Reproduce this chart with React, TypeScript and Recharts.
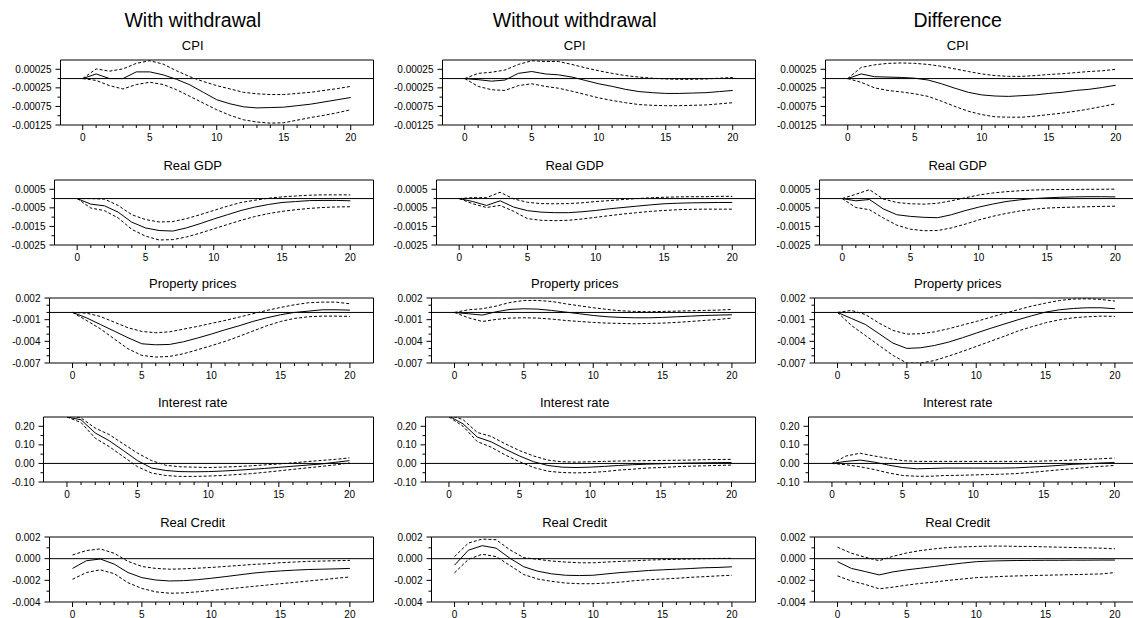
import { LineChart, Line, XAxis, YAxis, ReferenceLine, ReferenceArea } from 'recharts'

const horizon = [0, 1, 2, 3, 4, 5, 6, 7, 8, 9, 10, 11, 12, 13, 14, 15, 16, 17, 18, 19, 20]
const xLabelTicks = [0, 5, 10, 15, 20]

const columns = ['With withdrawal', 'Without withdrawal', 'Difference']
const variables = ['CPI', 'Real GDP', 'Property prices', 'Interest rate', 'Real Credit']

const yDomains = [[-0.00125, 0.0005], [-0.0025, 0.001], [-0.007, 0.002], [-0.1, 0.25], [-0.004, 0.002]]
const yMajor = [
  [0.00025, -0.00025, -0.00075, -0.00125],
  [0.0005, -0.0005, -0.0015, -0.0025],
  [0.002, -0.001, -0.004, -0.007],
  [0.2, 0.1, 0, -0.1],
  [0.002, 0, -0.002, -0.004],
]
const yMinor = [
  [0, -0.0005, -0.001],
  [0, -0.001, -0.002],
  [0.001, 0, -0.002, -0.003, -0.005, -0.006],
  [0.15, 0.05, -0.05],
  [0.001, -0.001, -0.003],
]
const yDigits = [5, 4, 3, 2, 3]

// With withdrawal
const wCpiMid = [0, 0.000125, 0, 0, 0.00018, 0.00018, 0.0001, -0.00002, -0.00017, -0.00037, -0.00057, -0.00068, -0.00076, -0.00079, -0.00078, -0.00077, -0.00073, -0.00069, -0.00063, -0.00057, -0.00051]
const wCpiUp = [0, 0.00026, 0.0002, 0.00026, 0.00041, 0.00048, 0.00039, 0.00021, 0.00005, -0.00008, -0.00019, -0.00028, -0.00037, -0.00041, -0.00043, -0.00043, -0.0004, -0.00037, -0.00032, -0.00027, -0.00021]
const wCpiLo = [0, -0.00005, -0.00019, -0.00028, -0.00016, -0.0001, -0.00016, -0.0003, -0.00048, -0.00066, -0.00084, -0.00099, -0.00111, -0.00117, -0.0012, -0.00119, -0.00112, -0.00105, -0.00099, -0.00092, -0.00084]
const wGdpMid = [0, -0.0003, -0.00039, -0.00073, -0.00127, -0.00158, -0.00172, -0.00175, -0.00158, -0.00135, -0.0011, -0.00087, -0.00064, -0.00046, -0.00032, -0.00021, -0.00016, -0.00011, -0.0001, -0.0001, -0.00012]
const wGdpUp = [0, 0, -0.00003, -0.00037, -0.00087, -0.00113, -0.00126, -0.00124, -0.00108, -0.00087, -0.00064, -0.00041, -0.00021, -0.00009, 0.00002, 0.00009, 0.00014, 0.00018, 0.0002, 0.0002, 0.0002]
const wGdpLo = [0, -0.00051, -0.00065, -0.00104, -0.00166, -0.00202, -0.00223, -0.00221, -0.00207, -0.00186, -0.00163, -0.0014, -0.00117, -0.00097, -0.00081, -0.00069, -0.0006, -0.00053, -0.00048, -0.00045, -0.00044]
const wPropMid = [0, -0.00074, -0.00166, -0.00258, -0.0035, -0.00434, -0.00448, -0.00443, -0.00406, -0.00355, -0.003, -0.0024, -0.00185, -0.00125, -0.00074, -0.00032, 0, 0.00018, 0.00037, 0.00037, 0.00032]
const wPropUp = [0, -0.0001, -0.00055, -0.00134, -0.00212, -0.00263, -0.00281, -0.00268, -0.00231, -0.00194, -0.00152, -0.00111, -0.00065, -0.00018, 0.00028, 0.00069, 0.00106, 0.00134, 0.00143, 0.00143, 0.0012]
const wPropLo = [0, -0.0011, -0.00226, -0.00365, -0.00503, -0.00595, -0.00618, -0.00609, -0.00572, -0.00517, -0.00461, -0.00401, -0.00332, -0.00258, -0.00185, -0.00125, -0.00083, -0.0006, -0.00051, -0.00051, -0.00055]
const wRateMid = [0.25, 0.235, 0.164, 0.122, 0.069, 0.015, -0.025, -0.038, -0.044, -0.045, -0.044, -0.041, -0.037, -0.032, -0.027, -0.021, -0.015, -0.009, -0.003, 0.006, 0.015]
const wRateUp = [0.26, 0.245, 0.19, 0.155, 0.105, 0.055, 0.015, -0.01, -0.018, -0.02, -0.022, -0.02, -0.017, -0.013, -0.008, -0.003, 0.003, 0.01, 0.016, 0.022, 0.03]
const wRateLo = [0.25, 0.22, 0.136, 0.09, 0.036, -0.018, -0.052, -0.065, -0.07, -0.07, -0.068, -0.065, -0.06, -0.055, -0.048, -0.04, -0.032, -0.024, -0.016, -0.008, 0.003]
const wCredMid = [-0.0009, -0.00019, -0.00003, -0.0005, -0.00128, -0.00175, -0.00197, -0.00206, -0.00203, -0.00194, -0.00181, -0.00166, -0.0015, -0.00134, -0.00122, -0.00113, -0.00106, -0.001, -0.00097, -0.00094, -0.0009]
const wCredUp = [0.00034, 0.00075, 0.0009, 0.0005, -0.00025, -0.00072, -0.0009, -0.00097, -0.00094, -0.00088, -0.00081, -0.00072, -0.00063, -0.00053, -0.00047, -0.00037, -0.00031, -0.00025, -0.00022, -0.00019, -0.00016]
const wCredLo = [-0.0019, -0.00128, -0.00103, -0.00138, -0.00222, -0.00275, -0.00306, -0.00319, -0.00316, -0.00306, -0.00294, -0.00281, -0.00269, -0.00256, -0.00244, -0.00231, -0.00219, -0.00206, -0.00194, -0.00181, -0.00169]

// Without withdrawal
const nCpiMid = [0, -0.00003, -0.00007, -0.00004, 0.00014, 0.00019, 0.000125, 0.0001, 0.00004, -0.00005, -0.00014, -0.00021, -0.00029, -0.00035, -0.00038, -0.0004, -0.0004, -0.00039, -0.00038, -0.00035, -0.00032]
const nCpiUp = [0, 0.00014, 0.00017, 0.00023, 0.00038, 0.00048, 0.00046, 0.00046, 0.00038, 0.00029, 0.00021, 0.00014, 0.00008, 0.00004, 0.00001, -0.00001, -0.00002, -0.00002, -0.00001, 0.00001, 0.00003]
const nCpiLo = [0, -0.00021, -0.0003, -0.00032, -0.00019, -0.00014, -0.00021, -0.00026, -0.00034, -0.00043, -0.00052, -0.00059, -0.00065, -0.0007, -0.00072, -0.00073, -0.00073, -0.00072, -0.00071, -0.00068, -0.00065]
const nGdpMid = [0, -0.00016, -0.00037, -0.00012, -0.00046, -0.00065, -0.00073, -0.00076, -0.00076, -0.00071, -0.00064, -0.00055, -0.00048, -0.00041, -0.00034, -0.00028, -0.00025, -0.00023, -0.00022, -0.00021, -0.00021]
const nGdpUp = [0, 0.00005, 0.00005, 0.00034, -0.00002, -0.0002, -0.00027, -0.00028, -0.00027, -0.00023, -0.00016, -0.00011, -0.00005, 0, 0.00004, 0.00007, 0.00009, 0.0001, 0.0001, 0.00012, 0.00012]
const nGdpLo = [0, -0.00028, -0.00048, -0.00037, -0.00069, -0.00108, -0.00117, -0.00119, -0.00117, -0.0011, -0.00101, -0.00092, -0.00083, -0.00076, -0.00069, -0.00064, -0.0006, -0.00058, -0.00057, -0.00057, -0.00057]
const nPropMid = [0, -0.00018, -0.00037, 0.00009, 0.00042, 0.00051, 0.00046, 0.00028, 0.00005, -0.00018, -0.00042, -0.0006, -0.00069, -0.00074, -0.00074, -0.00069, -0.0006, -0.00051, -0.00042, -0.00037, -0.00032]
const nPropUp = [0, 0.00037, 0.00051, 0.00088, 0.00138, 0.00166, 0.00166, 0.00152, 0.0012, 0.00092, 0.00065, 0.00042, 0.00023, 0.00014, 0.0001, 0.00014, 0.00018, 0.00023, 0.00028, 0.00032, 0.00042]
const nPropLo = [0, -0.00074, -0.00125, -0.00097, -0.00078, -0.00074, -0.00078, -0.00092, -0.00111, -0.00125, -0.00138, -0.00148, -0.00152, -0.00157, -0.00152, -0.00148, -0.00138, -0.00125, -0.00111, -0.00097, -0.00078]
const nRateMid = [0.255, 0.213, 0.142, 0.116, 0.076, 0.04, 0.009, -0.011, -0.02, -0.022, -0.02, -0.016, -0.011, -0.007, -0.004, -0.002, 0, 0.002, 0.003, 0.004, 0.005]
const nRateUp = [0.26, 0.236, 0.167, 0.145, 0.105, 0.069, 0.04, 0.018, 0.009, 0.007, 0.009, 0.011, 0.013, 0.014, 0.015, 0.016, 0.017, 0.018, 0.02, 0.021, 0.022]
const nRateLo = [0.25, 0.2, 0.118, 0.087, 0.045, 0.009, -0.022, -0.042, -0.049, -0.051, -0.049, -0.044, -0.036, -0.031, -0.025, -0.022, -0.018, -0.015, -0.013, -0.011, -0.009]
const nCredMid = [-0.0006, 0.00078, 0.0012, 0.00097, 0.00003, -0.00075, -0.00116, -0.0014, -0.00153, -0.00156, -0.00153, -0.0014, -0.00128, -0.00119, -0.00109, -0.00103, -0.00097, -0.00091, -0.00084, -0.00081, -0.00075]
const nCredUp = [0.00019, 0.00144, 0.00181, 0.00175, 0.00081, 0.00009, -0.00006, -0.00022, -0.00031, -0.00038, -0.00038, -0.00031, -0.00025, -0.00019, -0.00013, -0.00009, -0.00006, -0.00003, 0, 0.00002, 0.00003]
const nCredLo = [-0.00131, -0.00006, 0.00041, 0.00019, -0.00063, -0.00147, -0.00188, -0.00209, -0.00225, -0.00231, -0.00231, -0.00225, -0.00216, -0.00203, -0.00194, -0.00188, -0.00181, -0.00172, -0.00166, -0.00159, -0.00153]

// Difference
const dCpiMid = [0, 0.000125, 0.00005, 0.00004, 0.00003, 0.00001, -0.00004, -0.00014, -0.00026, -0.00037, -0.00044, -0.00047, -0.00048, -0.00046, -0.00044, -0.0004, -0.00037, -0.00032, -0.00029, -0.00024, -0.00018]
const dCpiUp = [0, 0.0003, 0.00037, 0.00041, 0.00042, 0.00041, 0.00038, 0.00033, 0.00026, 0.00019, 0.000125, 0.00008, 0.00006, 0.00006, 0.00008, 0.00011, 0.00013, 0.00016, 0.00019, 0.00021, 0.00025]
const dCpiLo = [0, -0.0001, -0.00025, -0.00032, -0.00036, -0.00041, -0.00048, -0.00061, -0.00075, -0.00088, -0.00097, -0.00103, -0.00104, -0.00104, -0.00101, -0.00097, -0.00093, -0.00088, -0.00082, -0.00075, -0.00068]
const dGdpMid = [0, -0.00012, -0.00005, -0.00055, -0.00087, -0.00096, -0.00101, -0.00103, -0.00087, -0.00065, -0.00046, -0.0003, -0.00016, -0.00007, 0, 0.00004, 0.00007, 0.00009, 0.0001, 0.0001, 0.00009]
const dGdpUp = [0, 0.00023, 0.00048, -0.00002, -0.00021, -0.00028, -0.0003, -0.00025, -0.00012, 0.00004, 0.00019, 0.0003, 0.00037, 0.00042, 0.00046, 0.00048, 0.00049, 0.00049, 0.0005, 0.0005, 0.00051]
const dGdpLo = [0, -0.00048, -0.0006, -0.00104, -0.00143, -0.00165, -0.00173, -0.00172, -0.00158, -0.00138, -0.00115, -0.00096, -0.0008, -0.00067, -0.00058, -0.00051, -0.00048, -0.00046, -0.00044, -0.00042, -0.00041]
const dPropMid = [0, -0.00083, -0.00166, -0.00295, -0.00425, -0.00498, -0.00489, -0.00457, -0.00411, -0.00351, -0.00286, -0.00222, -0.00162, -0.00102, -0.00046, 0.00005, 0.00037, 0.00055, 0.00065, 0.00065, 0.00051]
const dPropUp = [0, 0.00028, -0.00028, -0.00148, -0.00249, -0.003, -0.00295, -0.00268, -0.00226, -0.00175, -0.00125, -0.00069, -0.00014, 0.00037, 0.00088, 0.00129, 0.00166, 0.00185, 0.00189, 0.0018, 0.00157]
const dPropLo = [0, -0.0018, -0.00318, -0.00457, -0.00595, -0.00701, -0.00701, -0.00665, -0.00605, -0.0054, -0.00471, -0.00401, -0.00332, -0.00258, -0.00198, -0.00143, -0.00102, -0.00074, -0.0006, -0.00051, -0.00055]
const dRateMid = [0, 0.011, 0.018, 0.007, -0.009, -0.022, -0.029, -0.027, -0.025, -0.025, -0.025, -0.025, -0.025, -0.024, -0.02, -0.016, -0.011, -0.005, -0.002, 0.002, 0.005]
const dRateUp = [0, 0.04, 0.055, 0.04, 0.027, 0.015, 0.011, 0.011, 0.011, 0.011, 0.011, 0.011, 0.011, 0.011, 0.011, 0.013, 0.015, 0.018, 0.022, 0.025, 0.029]
const dRateLo = [0, -0.007, -0.018, -0.033, -0.051, -0.065, -0.069, -0.069, -0.065, -0.064, -0.062, -0.06, -0.058, -0.055, -0.049, -0.042, -0.035, -0.029, -0.022, -0.016, -0.011]
const dCredMid = [-0.00028, -0.0009, -0.00119, -0.0015, -0.00122, -0.00103, -0.00088, -0.00072, -0.00056, -0.00041, -0.00028, -0.00022, -0.00019, -0.00017, -0.00016, -0.00015, -0.00015, -0.00014, -0.00014, -0.00013, -0.00013]
const dCredUp = [0.00106, 0.0005, 0.00013, -0.00019, 0.00022, 0.00053, 0.00075, 0.00091, 0.00103, 0.00109, 0.00113, 0.00116, 0.00116, 0.00113, 0.00113, 0.00109, 0.00106, 0.00103, 0.001, 0.00097, 0.00091]
const dCredLo = [-0.00159, -0.00206, -0.00238, -0.00278, -0.00263, -0.00244, -0.00228, -0.00216, -0.002, -0.00188, -0.00175, -0.00169, -0.00163, -0.00159, -0.00156, -0.00153, -0.0015, -0.00147, -0.00144, -0.00141, -0.00128]

// [column][variable] -> [median, upper, lower]
const series = [
  [[wCpiMid, wCpiUp, wCpiLo], [wGdpMid, wGdpUp, wGdpLo], [wPropMid, wPropUp, wPropLo], [wRateMid, wRateUp, wRateLo], [wCredMid, wCredUp, wCredLo]],
  [[nCpiMid, nCpiUp, nCpiLo], [nGdpMid, nGdpUp, nGdpLo], [nPropMid, nPropUp, nPropLo], [nRateMid, nRateUp, nRateLo], [nCredMid, nCredUp, nCredLo]],
  [[dCpiMid, dCpiUp, dCpiLo], [dGdpMid, dGdpUp, dGdpLo], [dPropMid, dPropUp, dPropLo], [dRateMid, dRateUp, dRateLo], [dCredMid, dCredUp, dCredLo]],
]

// layout
const X_DOMAIN = [-1.66, 21.7]
const COL_LEFT = [0, 382, 765]
const FRAME_TOP = [59.5, 179.5, 297.5, 416.5, 536.5]
const FRAME_LEFT = [60.5, 54.5, 49.5, 43.5, 49.5]
const FRAME_H = 65
const PAD_TOP = 8
const FONT = '"Liberation Sans", Arial, sans-serif'

function YTick({ x, y, payload, majors, digits }: any) {
  const major = majors.includes(payload.value)
  return (
    <g>
      <line x1={x - (major ? 5 : 3)} x2={x} y1={y} y2={y} stroke="#000" />
      {major && (
        <text x={x - 9} y={y} dy="0.35em" textAnchor="end" fontSize={10} fill="#000" fontFamily={FONT}>
          {payload.value.toFixed(digits)}
        </text>
      )}
    </g>
  )
}

function XTick({ x, y, payload }: any) {
  const major = xLabelTicks.includes(payload.value)
  return (
    <g>
      <line x1={x} x2={x} y1={y} y2={y + (major ? 5 : 3)} stroke="#000" />
      {major && (
        <text x={x} y={y + 16} textAnchor="middle" fontSize={10} fill="#000" fontFamily={FONT}>
          {payload.value}
        </text>
      )}
    </g>
  )
}

function Panel({ col, row }: { col: number; row: number }) {
  const [mid, up, lo] = series[col][row]
  const data = horizon.map((t, i) => ({ t, mid: mid[i], up: up[i], lo: lo[i] }))
  const dom = yDomains[row]
  return (
    <div style={{ position: 'absolute', left: COL_LEFT[col], top: FRAME_TOP[row] - PAD_TOP }}>
      <LineChart width={375} height={PAD_TOP + FRAME_H + 22} data={data} margin={{ top: PAD_TOP, right: 1.5, bottom: 0, left: 0 }}>
        <XAxis
          dataKey="t"
          type="number"
          domain={X_DOMAIN}
          allowDataOverflow
          ticks={horizon}
          interval={0}
          height={22}
          axisLine={false}
          tickLine={false}
          tickSize={0}
          tickMargin={0}
          tick={(p: any) => <XTick {...p} />}
        />
        <YAxis
          type="number"
          domain={dom}
          allowDataOverflow
          ticks={[...yMajor[row], ...yMinor[row]]}
          interval={0}
          width={FRAME_LEFT[row]}
          axisLine={false}
          tickLine={false}
          tickSize={0}
          tickMargin={0}
          tick={(p: any) => <YTick {...p} majors={yMajor[row]} digits={yDigits[row]} />}
        />
        <ReferenceArea x1={X_DOMAIN[0]} x2={X_DOMAIN[1]} y1={dom[0]} y2={dom[1]} fill="none" fillOpacity={0} stroke="#000" strokeWidth={1} />
        <ReferenceLine y={0} stroke="#000" strokeWidth={1} />
        <Line dataKey="lo" type="linear" stroke="#000" strokeWidth={1} strokeDasharray="3 2" dot={false} isAnimationActive={false} />
        <Line dataKey="up" type="linear" stroke="#000" strokeWidth={1} strokeDasharray="3 2" dot={false} isAnimationActive={false} />
        <Line dataKey="mid" type="linear" stroke="#000" strokeWidth={1} dot={false} isAnimationActive={false} />
      </LineChart>
    </div>
  )
}

export default function App() {
  return (
    <div style={{ position: 'relative', width: 1133, height: 618, overflow: 'hidden', background: '#fff', fontFamily: FONT }}>
      <style>{'body{margin:0}'}</style>
      <svg width={1133} height={618} style={{ position: 'absolute', left: 0, top: 0 }}>
        {columns.map((c, ci) => (
          <text key={c} x={COL_LEFT[ci] + 192.7} y={27.3} textAnchor="middle" fontSize={19.5} fill="#000" fontFamily={FONT}>
            {c}
          </text>
        ))}
        {columns.map((c, ci) =>
          variables.map((v, ri) => (
            <text key={c + v} x={COL_LEFT[ci] + 192.7} y={FRAME_TOP[ri] - 10} textAnchor="middle" fontSize={13} fill="#000" fontFamily={FONT}>
              {v}
            </text>
          ))
        )}
      </svg>
      {columns.map((c, ci) => variables.map((v, ri) => <Panel key={c + v} col={ci} row={ri} />))}
    </div>
  )
}
